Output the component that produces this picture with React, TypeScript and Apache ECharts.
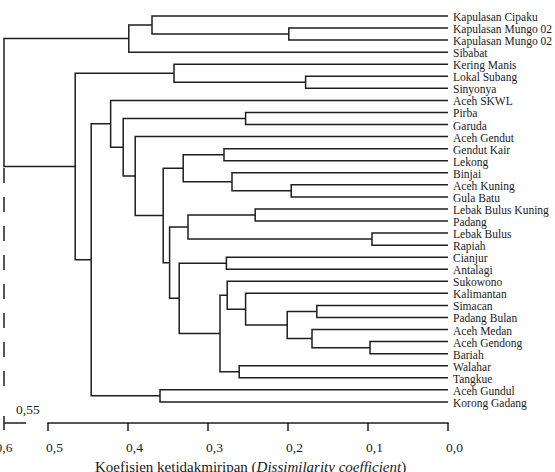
import React, { useEffect, useRef } from "react";
import * as echarts from "echarts";

const leaves = [
  "Kapulasan Cipaku",
  "Kapulasan Mungo 02",
  "Kapulasan Mungo 02",
  "Sibabat",
  "Kering Manis",
  "Lokal Subang",
  "Sinyonya",
  "Aceh SKWL",
  "Pirba",
  "Garuda",
  "Aceh Gendut",
  "Gendut Kair",
  "Lekong",
  "Binjai",
  "Aceh Kuning",
  "Gula Batu",
  "Lebak Bulus Kuning",
  "Padang",
  "Lebak Bulus",
  "Rapiah",
  "Cianjur",
  "Antalagi",
  "Sukowono",
  "Kalimantan",
  "Simacan",
  "Padang Bulan",
  "Aceh Medan",
  "Aceh Gendong",
  "Bariah",
  "Walahar",
  "Tangkue",
  "Aceh Gundul",
  "Korong Gadang",
];

// merges: [childA, childB, dissimilarity]; ids 0..32 are leaves, merge k gets id 33 + k
const merges: [number, number, number][] = [
  [1, 2, 0.199], // 33
  [0, 33, 0.37], // 34
  [34, 3, 0.399], // 35
  [5, 6, 0.178], // 36
  [4, 36, 0.3425], // 37
  [8, 9, 0.253], // 38
  [11, 12, 0.28], // 39
  [14, 15, 0.196], // 40
  [13, 40, 0.27], // 41
  [39, 41, 0.331], // 42
  [16, 17, 0.241], // 43
  [18, 19, 0.095], // 44
  [43, 44, 0.325], // 45
  [20, 21, 0.277], // 46
  [24, 25, 0.164], // 47
  [27, 28, 0.0975], // 48
  [26, 48, 0.17], // 49
  [47, 49, 0.201], // 50
  [23, 50, 0.253], // 51
  [22, 51, 0.276], // 52
  [29, 30, 0.261], // 53
  [52, 53, 0.285], // 54
  [46, 54, 0.336], // 55
  [45, 55, 0.348], // 56
  [42, 56, 0.356], // 57
  [10, 57, 0.391], // 58
  [38, 58, 0.406], // 59
  [7, 59, 0.4217], // 60
  [31, 32, 0.36], // 61
  [60, 61, 0.446], // 62
  [37, 62, 0.466], // 63
  [35, 63, 0.6], // 64 root
];

const tickValues = [0, 0.1, 0.2, 0.3, 0.4, 0.5];
const breakTickValues = [0.6, 0.55];
const axisTitle = "Koefisien ketidakmiripan";
const axisTitleItalic = "Dissimilarity coefficient";

// broken axis: values above 0.5 are compressed
const BREAK_AT = 0.5;
const BREAK_SCALE = 0.55;
const toAxis = (v: number) => (v <= BREAK_AT ? v : BREAK_AT + (v - BREAK_AT) * BREAK_SCALE);

const FONT = "Liberation Serif";
const LINE = "#1e1e1e";
const TEXT = "#1a1a1a";
const AXIS_Y = 33.75;

function buildLinks() {
  const nodeY: number[] = leaves.map((_, i) => i);
  const nodeH: number[] = leaves.map(() => 0);
  const links: number[][] = [];
  merges.forEach(([a, b, h]) => {
    const y = (nodeY[a] + nodeY[b]) / 2;
    links.push([toAxis(nodeH[a]), nodeY[a], toAxis(nodeH[b]), nodeY[b], toAxis(h)]);
    nodeY.push(y);
    nodeH.push(h);
  });
  return { links, nodeY };
}

export default function App() {
  const ref = useRef<HTMLDivElement>(null);
  useEffect(() => {
    if (!ref.current) return;
    const chart = echarts.init(ref.current, null, { renderer: "svg" });
    const { links, nodeY } = buildLinks();
    const rootLowerChild = merges[merges.length - 1][1];
    const dashStart = nodeY[rootLowerChild] + 0.12;
    const dashEnd = leaves.length - 1 - 0.55;

    const fmt = (v: number) => v.toFixed(String(v).length > 3 ? 2 : 1).replace(".", ",");

    chart.setOption({
      animation: false,
      backgroundColor: "#ffffff",
      title: {
        text: `${axisTitle} ({i|${axisTitleItalic}})`,
        left: 95,
        top: 459,
        padding: 0,
        textStyle: {
          fontFamily: FONT,
          fontSize: 15,
          fontWeight: "normal",
          color: TEXT,
          rich: {
            i: { fontFamily: FONT, fontSize: 15, fontStyle: "italic", color: TEXT },
          },
        },
      },
      grid: { left: 4, right: 107, top: 16, bottom: 49, containLabel: false },
      xAxis: {
        type: "value",
        position: "bottom",
        inverse: true,
        min: 0,
        max: toAxis(0.6),
        axisLine: { show: false, onZero: false },
        splitLine: { show: false },
        axisTick: {
          show: true,
          customValues: tickValues,
          length: 8,
          lineStyle: { color: LINE, width: 1.5 },
        },
        axisLabel: {
          show: true,
          customValues: tickValues,
          formatter: (v: number) => v.toFixed(1).replace(".", ","),
          align: "left",
          margin: 17,
          padding: [0, 0, 0, -2],
          fontFamily: FONT,
          fontSize: 13.5,
          color: TEXT,
        },
      },
      yAxis: {
        type: "value",
        inverse: true,
        min: 0,
        max: AXIS_Y,
        show: false,
      },
      series: [
        {
          type: "custom",
          name: "dendrogram",
          clip: false,
          encode: { x: [0, 2, 4], y: [1, 3] },
          data: links,
          renderItem: (params: any, api: any) => {
            const a = api.coord([api.value(0), api.value(1)]);
            const ah = api.coord([api.value(4), api.value(1)]);
            const bh = api.coord([api.value(4), api.value(3)]);
            const b = api.coord([api.value(2), api.value(3)]);
            return {
              type: "polyline",
              shape: { points: [a, ah, bh, b] },
              style: { stroke: LINE, lineWidth: 1.5, fill: "none" },
            };
          },
        },
        {
          type: "custom",
          name: "labels",
          clip: false,
          encode: { x: 0, y: 1 },
          data: leaves.map((_, i) => [0, i]),
          renderItem: (params: any, api: any) => {
            const p = api.coord([0, api.value(1)]);
            return {
              type: "text",
              x: p[0] + 5,
              y: p[1] + 1,
              style: {
                text: leaves[params.dataIndex],
                fontFamily: FONT,
                fontSize: 11.5,
                fill: TEXT,
                align: "left",
                verticalAlign: "middle",
              },
            };
          },
        },
        {
          type: "custom",
          name: "axis",
          clip: false,
          encode: { x: 0, y: 1 },
          data: [[0, AXIS_Y]],
          renderItem: (params: any, api: any) => {
            const p0 = api.coord([tickValues[0], AXIS_Y]);
            const p5 = api.coord([tickValues[tickValues.length - 1], AXIS_Y]);
            const q6 = api.coord([toAxis(breakTickValues[0]), AXIS_Y]);
            const q55 = api.coord([toAxis(breakTickValues[1]), AXIS_Y]);
            const d0 = api.coord([toAxis(breakTickValues[0]), dashStart]);
            const d1 = api.coord([toAxis(breakTickValues[0]), dashEnd]);
            const st = { stroke: LINE, lineWidth: 1.5 };
            return {
              type: "group",
              children: [
                { type: "line", shape: { x1: p0[0] + 0.75, y1: p0[1], x2: p5[0] - 0.75, y2: p5[1] }, style: st },
                { type: "line", shape: { x1: q6[0], y1: q6[1], x2: q55[0], y2: q55[1] }, style: st },
                { type: "line", shape: { x1: q6[0], y1: q6[1] - 7, x2: q6[0], y2: q6[1] + 7 }, style: st },
                {
                  type: "line",
                  shape: { x1: d0[0], y1: d0[1], x2: d1[0], y2: d1[1] },
                  style: { stroke: LINE, lineWidth: 1.5, lineDash: [15, 14] },
                },
                {
                  type: "text",
                  x: q55[0] - 10,
                  y: q55[1] - 14,
                  style: {
                    text: fmt(breakTickValues[1]),
                    fontFamily: FONT,
                    fontSize: 13.5,
                    fill: TEXT,
                    align: "left",
                    verticalAlign: "middle",
                  },
                },
                {
                  type: "text",
                  x: q6[0],
                  y: q6[1] + 24,
                  style: {
                    text: fmt(breakTickValues[0]),
                    fontFamily: FONT,
                    fontSize: 13.5,
                    fill: TEXT,
                    align: "center",
                    verticalAlign: "middle",
                  },
                },
              ],
            };
          },
        },
      ],
    });
    return () => chart.dispose();
  }, []);
  return (
    <div
      ref={ref}
      style={{ position: "fixed", left: 0, top: 0, width: 555, height: 472, background: "#fff" }}
    />
  );
}
